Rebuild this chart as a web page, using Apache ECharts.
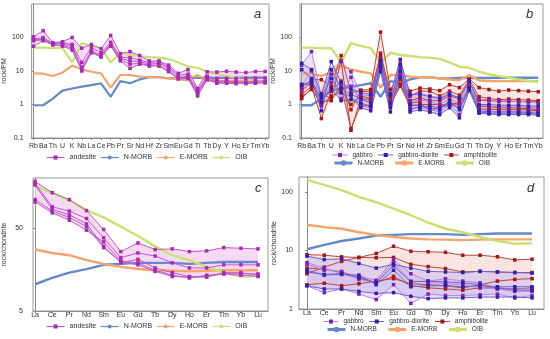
<!DOCTYPE html>
<html><head><meta charset="utf-8">
<script src="https://cdn.jsdelivr.net/npm/echarts@6/dist/echarts.min.js"></script>
<style>html,body{margin:0;padding:0;background:#fff}#c{width:550px;height:339px}</style>
</head><body><div id="c"></div>
<script>
// ---------- categories & ticks ----------
const pmCats = ['Rb','Ba','Th','U','K','Nb','La','Ce','Pb','Pr','Sr','Nd','Hf','Zr','Sm','Eu','Gd','Ti','Tb','Dy','Y','Ho','Er','Tm','Yb'];
const reeCats = ['La','Ce','Pr','Nd','Sm','Eu','Gd','Tb','Dy','Ho','Er','Tm','Yb','Lu'];
const pmTicks = [0.1, 1, 10, 100];
const reeTicksC = [5, 50];
const reeTicksD = [1, 10, 100];

// ---------- reference curves (primitive-mantle normalised) ----------
const nmorbPM = [0.95,0.95,1.5,2.6,3.0,3.4,3.8,4.3,1.7,5.0,4.3,5.6,6.5,6.5,6.0,6.0,6.2,6.3,6.2,6.2,6.3,6.3,6.3,6.3,6.3];
const emorbPM = [8.5,8.3,7.1,8.9,14.5,11.2,9.5,8.5,3.2,7.6,7.6,6.8,6.5,6.5,6.0,5.6,5.3,7.6,5.2,5.0,5.0,5.0,5.0,5.0,5.0];
const oibPM   = [50,50,48,48,18,68,56,48,18,35,30,28,26,25,23,18,13.5,12.5,9.5,8,7,6.3,5.6,5.1,4.7];

// ---------- reference curves (chondrite normalised) ----------
const nmorbCh = [10.5,12.5,14.5,16,18,18.5,19,19,19,18.5,19,19.5,19.5,19.5];
const emorbCh = [27.5,25,23.5,20.5,18.5,17,16,15.5,15.3,15,15.3,15.5,15.5,15.5];
const oibCh   = [160,132,107,82,67,52,40,30,23.5,20.5,17,14.5,13,13.2];

// ---------- panel a : andesite (PM) ----------
const andPM1 = [105,160,70,75,100,48,62,46,115,33,38,29,20,20,15,8.5,11,3.0,9.5,9.3,9.8,9.3,9.0,9.7,9.7];
const andPM2 = [92,98,68,70,62,18,50,35,72,26,25,21,18,19,13,7.5,8,2.6,7,6.0,6.0,6.0,6.0,6.1,6.2];
const andPM3 = [85,90,66,65,55,13,40,30,65,24,20,19,16,17,12,6.5,7,2.3,6.5,5.0,5.0,4.8,4.7,5.0,5.0];
const andPM4 = [80,85,62,58,48,11,36,28,60,22,16,17,15,15,10,6,6.5,2.0,6,4.6,4.6,4.5,4.4,4.6,4.6];
const andPM5 = [55,80,60,55,42,10,35,26,55,20,12,16,14,14,9.5,5.8,6,1.8,5.5,4.3,4.3,4.2,4.2,4.3,4.4];

// ---------- panel b : gabbro / gabbro-diorite / amphibolite (PM) ----------
const gabPM1 = [15,38,1.8,11,19,9.5,2.0,1.8,22,2.0,17,1.8,2.2,1.8,1.6,2.2,1.5,4.5,1.4,1.4,1.3,1.3,1.2,1.2,1.1];
const gabPM2 = [3.5,10,1.3,8,3.5,3.5,1.4,1.2,17,1.3,12,1.2,1.4,1.2,1.0,1.5,1.0,3.5,0.95,0.9,0.85,0.85,0.85,0.8,0.8];
const gabPM3 = [2.5,4.5,0.9,4.5,1.5,6.5,0.9,0.8,12,0.9,8,0.8,0.8,0.7,0.6,1.0,0.5,2.7,0.7,0.65,0.6,0.62,0.6,0.6,0.6];
const gdPM1 = [17,11,2.0,19,4.5,2.8,2.3,2.0,20,2.0,22,2.0,2.0,1.7,1.5,2.0,1.6,5.0,1.0,1.0,0.95,0.95,0.95,0.9,0.9];
const gdPM2 = [11,6,0.65,11,3.0,2.0,1.5,1.1,15,1.1,15,1.0,0.9,0.8,0.7,1.3,0.7,3.0,0.65,0.6,0.6,0.6,0.6,0.58,0.55];
const gdPM3 = [4,4,1.6,6,2.2,1.8,0.8,0.65,9.5,0.6,10,0.6,0.7,0.6,0.5,0.8,0.4,2.6,0.55,0.52,0.5,0.5,0.5,0.5,0.48];
const gdPM4 = [3.8,5,1.2,3,1.3,1.4,1.1,0.9,13,0.8,6.5,0.7,0.85,0.9,0.8,1.0,0.8,3.2,0.6,0.55,0.55,0.55,0.55,0.55,0.5];
const amPM1 = [3.2,5.5,5.5,3.5,29,2.2,2.7,2.8,145,2.8,9,2.5,3.1,2.9,2.6,3.9,3.2,5.8,3.2,2.8,2.5,2.7,2.6,2.5,2.4];
const amPM2 = [2.7,4.5,2.1,1.5,20,0.17,1.5,1.4,34,2.1,7,1.8,2.5,2.5,1.8,2.5,1.9,5.5,1.7,1.5,1.4,1.45,1.4,1.35,1.3];
const amPM3 = [2.0,3.5,0.38,2.5,5,0.7,2.5,2.4,28,1.6,5.5,1.3,1.6,1.3,1.3,1.8,1.5,4.5,1.35,1.3,1.25,1.25,1.25,1.2,1.2];
const amPM4 = [1.7,2.8,1.2,1.3,3.5,0.19,1.0,0.85,25,1.2,4,1.1,1.2,0.6,0.9,1.1,1.0,3.5,0.9,0.85,0.8,0.8,0.78,0.75,0.7];
const amPM5 = [1.5,3.0,1.0,1.8,2.5,1.0,1.8,1.5,19,1.0,3.5,0.9,1.0,1.0,1.0,0.9,1.2,3.0,0.75,0.72,0.7,0.7,0.7,0.68,0.65];

// ---------- panel c : andesite (chondrite) ----------
const andCh1 = [182,133,110,81,48,26,33,27.5,28,26,26.5,29,28.5,28];
const andCh2 = [172,90,80,65,38,22,25,23,19,16.5,16.5,18,18,18];
const andCh3 = [165,84,72,56,30,19,21,16.5,14.5,13,13,14,14,14];
const andCh4 = [110,80,67,52,29,19.5,18,15,13,12.8,12.8,14.5,14.5,13.5];
const andCh5 = [103,76,62,47,34,20,19,15.5,13.5,12.5,13.5,14,13.5,13];

// ---------- panel d : gabbro / gabbro-diorite / amphibolite (chondrite) ----------
const gabCh1 = [6.2,5.0,4.0,3.6,3.1,7.0,4.0,3.0,3.3,3.0,2.8,2.2,2.0,2.0];
const gabCh2 = [5.8,4.6,4.4,3.2,2.9,6.2,3.0,2.9,2.7,2.6,2.3,2.2,2.2,2.2];
const gabCh3 = [2.5,1.9,2.2,1.8,1.45,2.6,1.25,1.8,1.7,1.7,1.75,1.8,1.55,1.7];
const gdCh1 = [8.0,7.0,7.2,6.0,5.0,5.8,5.0,4.4,4.3,4.2,4.4,4.3,4.2,4.1];
const gdCh2 = [4.6,3.8,3.9,3.8,2.6,4.6,2.4,2.5,2.5,2.4,2.5,2.4,2.4,2.4];
const gdCh3 = [4.3,3.9,4.0,3.4,2.8,5.5,2.9,3.0,2.9,2.8,2.6,2.3,2.1,2.1];
const gdCh4 = [2.5,2.2,2.2,2.0,1.85,1.9,1.65,1.5,1.55,1.55,1.6,1.6,1.6,1.55];
const amCh1 = [8.5,8.3,7.8,7.6,8.9,11.8,9.7,9.5,9.3,8.3,8.3,7.8,6.9,7.1];
const amCh2 = [4.0,5.2,6.5,7.6,7.5,7.6,5.8,5.3,4.9,4.3,4.4,4.3,4.2,4.2];
const amCh3 = [2.6,2.75,2.5,2.7,3.0,3.3,2.7,2.6,2.5,2.3,2.6,3.0,3.2,3.3];
const amCh4 = [5.0,4.8,4.3,3.5,2.8,3.6,2.5,2.3,2.2,2.1,2.3,2.3,2.2,2.3];

// ---------- styles ----------
const FONT = 'Liberation Sans, Arial, sans-serif';
const TXT = '#333';
const C = {
  nmorb: '#6689C9', emorb: '#F5A46C', oib: '#C9E072',
  andLine: '#BE5CC9', andMark: '#A52DB0', andFill: 'rgba(245,208,242,0.8)',
  gabLine: '#B688DC', gabMark: '#7A22B5', gabFill: 'rgba(222,190,240,0.5)',
  gdLine: '#6E62D0', gdMark: '#3420A3', gdFill: 'rgba(196,186,242,0.5)',
  amLine: '#B4483E', amMark: '#A3161A', amFill: 'rgba(246,206,198,0.55)'
};

const series = [];
const pts = arr => arr.map((v, i) => [i, v]);

// envelope band between the lowest and highest sample of a group
function band(g, id, lines, fill) {
  const lo = lines[0].map((_, i) => Math.min(...lines.map(l => l[i])));
  const hi = lines[0].map((_, i) => Math.max(...lines.map(l => l[i])));
  series.push({type:'custom', name:id, xAxisIndex:g, yAxisIndex:g, silent:true, z:1,
    data: lo.map((v, i) => [i, v, hi[i]]),
    encode: {x:0, y:[1, 2]},
    renderItem: (params, api) => {
      if (params.dataIndex !== 0) return null;
      const top = hi.map((v, i) => api.coord([i, v]));
      const bot = lo.map((v, i) => api.coord([i, v])).reverse();
      return {type:'polygon', shape:{points: top.concat(bot)}, style:{fill: fill, stroke: null}};
    }});
}
function sample(g, name, lines, lineColor, markColor, size) {
  lines.forEach(l => series.push({type:'line', name, xAxisIndex:g, yAxisIndex:g, data:pts(l),
    symbol:'rect', symbolSize:size, lineStyle:{color:lineColor, width:1},
    itemStyle:{color:markColor}, z:4}));
}
function refs(g, n, e, o, w) {
  series.push({type:'line', name:'N-MORB', xAxisIndex:g, yAxisIndex:g, data:pts(n), symbol:'none', lineStyle:{color:C.nmorb, width:w}, itemStyle:{color:C.nmorb}, z:3});
  series.push({type:'line', name:'E-MORB', xAxisIndex:g, yAxisIndex:g, data:pts(e), symbol:'none', lineStyle:{color:C.emorb, width:w}, itemStyle:{color:C.emorb}, z:3});
  series.push({type:'line', name:'OIB', xAxisIndex:g, yAxisIndex:g, data:pts(o), symbol:'none', lineStyle:{color:C.oib, width:w}, itemStyle:{color:C.oib}, z:3});
}

// panel a
const andPM = [andPM1, andPM2, andPM3, andPM4, andPM5];
band(0, 'aAnd', andPM, C.andFill);
refs(0, nmorbPM, emorbPM, oibPM, 2.2);
sample(0, 'andesite', andPM, C.andLine, C.andMark, 3.5);
// panel b
const gabPM = [gabPM1, gabPM2, gabPM3];
const gdPM = [gdPM1, gdPM2, gdPM3, gdPM4];
const amPM = [amPM1, amPM2, amPM3, amPM4, amPM5];
band(1, 'bAm', amPM, C.amFill);
band(1, 'bGab', gabPM, C.gabFill);
band(1, 'bGd', gdPM, C.gdFill);
refs(1, nmorbPM, emorbPM, oibPM, 2.4);
sample(1, 'amphibolite', amPM, C.amLine, C.amMark, 3.5);
sample(1, 'gabbro', gabPM, C.gabLine, C.gabMark, 3.5);
sample(1, 'gabbro-diorite', gdPM, C.gdLine, C.gdMark, 3.5);
// panel c
const andCh = [andCh1, andCh2, andCh3, andCh4, andCh5];
band(2, 'cAnd', andCh, C.andFill);
refs(2, nmorbCh, emorbCh, oibCh, 2.4);
sample(2, 'andesite', andCh, C.andLine, C.andMark, 3.5);
// panel d
const gabCh = [gabCh1, gabCh2, gabCh3];
const gdCh = [gdCh1, gdCh2, gdCh3, gdCh4];
const amCh = [amCh1, amCh2, amCh3, amCh4];
band(3, 'dAm', amCh, C.amFill);
band(3, 'dGab', gabCh, C.gabFill);
band(3, 'dGd', gdCh, C.gdFill);
refs(3, nmorbCh, emorbCh, oibCh, 2.4);
sample(3, 'amphibolite', amCh, C.amLine, C.amMark, 3.5);
sample(3, 'gabbro', gabCh, C.gabLine, C.gabMark, 3.5);
sample(3, 'gabbro-diorite', gdCh, C.gdLine, C.gdMark, 3.5);

// ---------- axes ----------
const grids = [
  {left:25, top:4, width:244, height:134},
  {left:300, top:4, width:243, height:134},
  {left:33, top:178, width:235, height:133},
  {left:299, top:177, width:245, height:132}
].map(g => Object.assign(g, {show:true, borderColor:'#9a9a9a', borderWidth:1, backgroundColor:'transparent'}));

function xAx(g, cats, min, max, margin) {
  const idx = cats.map((_, i) => i);
  return {type:'value', gridIndex:g, min, max, minInterval:1, maxInterval:1,
    splitLine:{show:false},
    axisLine:{show:true, lineStyle:{color:'#8a8a8a', width:1}},
    axisTick:{show:true, length:2, customValues:idx, lineStyle:{color:'#8a8a8a'}},
    axisLabel:{customValues:idx, margin, fontSize:7, color:TXT, fontFamily:FONT,
      formatter: v => Math.abs(v - Math.round(v)) < 1e-6 ? (cats[Math.round(v)] || '') : ''}};
}
function yAx(g, min, max, ticks, name, nameGap, margin) {
  return {type:'log', logBase:10, gridIndex:g, min, max,
    splitLine:{show:false},
    axisLine:{show:true, lineStyle:{color:'#8a8a8a', width:1}},
    axisTick:{show:true, length:2, customValues:ticks, lineStyle:{color:'#8a8a8a'}},
    axisLabel:{customValues:ticks, margin, fontSize:7, color:TXT, fontFamily:FONT,
      formatter: v => String(+(+v).toPrecision(3))},
    name, nameLocation:'middle', nameGap, nameRotate:90,
    nameTextStyle:{fontSize:7, color:TXT, fontFamily:FONT}};
}

const xAxis = [
  xAx(0, pmCats, -0.2, 24.4, 5),
  xAx(1, pmCats, -0.17, 24.48, 5),
  xAx(2, reeCats, -0.12, 13.58, 1),
  xAx(3, reeCats, -0.46, 13.69, 1)
];
const yAxis = [
  yAx(0, 0.1, 1000, pmTicks, 'rock/PM', 18, 8),
  yAx(1, 0.1, 1000, pmTicks, 'rock/PM', 19, 8),
  yAx(2, 5, 200, reeTicksC, 'rock/chondrite', 25, 10),
  yAx(3, 1, 180, reeTicksD, 'rock/chondrite', 16, 6)
];

// ---------- legends ----------
const legBase = {orient:'horizontal', itemHeight:5, padding:0, selectedMode:false,
  textStyle:{fontSize:7, color:TXT, fontFamily:FONT}};
const small = {fontSize:6.5, color:TXT, fontFamily:FONT};
const legend = [
  Object.assign({}, legBase, {left:46, top:154, itemWidth:18, itemGap:4, lineStyle:{width:1.2},
    data:['andesite','N-MORB','E-MORB','OIB']}),
  Object.assign({}, legBase, {left:332, top:151.5, itemWidth:15, itemGap:5, lineStyle:{width:1},
    textStyle:small, data:['gabbro','gabbro-diorite','amphibolite']}),
  Object.assign({}, legBase, {left:333, top:159.5, itemWidth:18, itemHeight:7, itemGap:10, lineStyle:{width:3},
    textStyle:small, data:['N-MORB','E-MORB','OIB']}),
  Object.assign({}, legBase, {left:46, top:323, itemWidth:18, itemGap:4, lineStyle:{width:1.2},
    data:['andesite','N-MORB','E-MORB','OIB']}),
  Object.assign({}, legBase, {left:323, top:318, itemWidth:15, itemGap:5, lineStyle:{width:1},
    textStyle:small, data:['gabbro','gabbro-diorite','amphibolite']}),
  Object.assign({}, legBase, {left:326, top:326, itemWidth:18, itemHeight:7, itemGap:10, lineStyle:{width:3},
    textStyle:small, data:['N-MORB','E-MORB','OIB']})
];

const tStyle = {fontSize:13, fontStyle:'italic', fontWeight:'normal', color:'#333', fontFamily:FONT};
const title = [
  {text:'a', left:254, top:8, padding:0, textStyle:tStyle},
  {text:'b', left:526, top:8, padding:0, textStyle:tStyle},
  {text:'c', left:255, top:182, padding:0, textStyle:tStyle},
  {text:'d', left:527, top:182, padding:0, textStyle:tStyle}
];

const chart = echarts.init(document.getElementById('c'), null, {renderer:'canvas'});
chart.setOption({animation:false, backgroundColor:'#fff', title, legend, grid:grids, xAxis, yAxis, series});
</script></body></html>
